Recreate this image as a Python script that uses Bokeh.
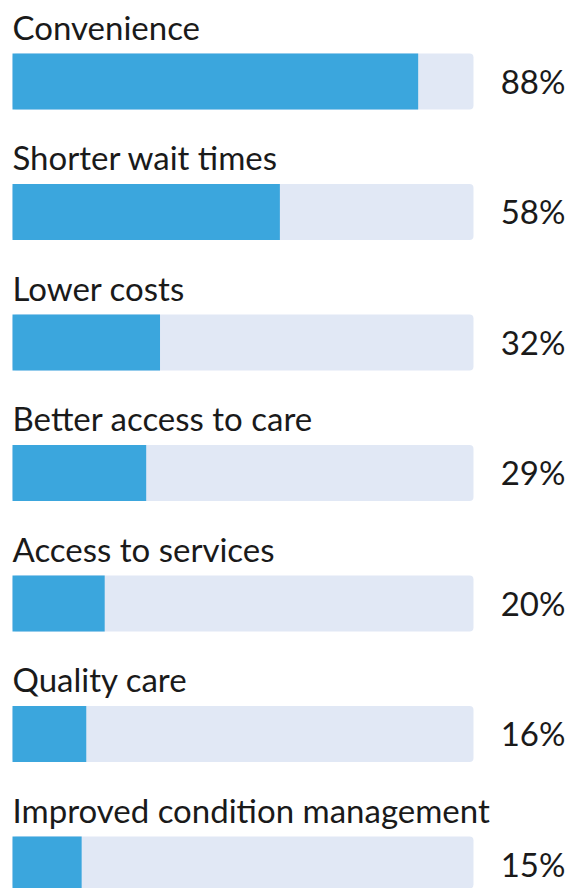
from bokeh.plotting import figure
from bokeh.models import Range1d, ColumnDataSource
from bokeh.core.properties import value
from bokeh.embed import file_html
from bokeh.resources import INLINE

categories = ["Convenience", "Shorter wait times", "Lower costs", "Better access to care",
              "Access to services", "Quality care", "Improved condition management"]
values = [88, 58, 32, 29, 20, 16, 15]
pct_labels = [f"{v}%" for v in values]

n = len(categories)
rows = list(range(n))

p = figure(width=571, height=888, output_backend="svg", toolbar_location=None,
           x_range=Range1d(-2.603, 121.26), y_range=Range1d(6.184, -0.6207),
           min_border=0)
p.axis.visible = False
p.grid.visible = False
p.outline_line_color = None
p.background_fill_color = "white"
p.border_fill_color = "white"

src = ColumnDataSource(dict(
    y=rows, v=values, full=[100] * n, cat=categories, pct=pct_labels,
    label_y=[r - 0.419 for r in rows], pct_y=[r - 0.006 for r in rows],
    zero=[0] * n, pct_x=[105.9] * n,
))

bar_h = 56 / 130.5
p.hbar(y="y", left=0, right="full", height=bar_h, source=src,
       fill_color="#E1E8F5", line_color=None, border_radius=4)
p.hbar(y="y", left=0, right="v", height=bar_h, source=src,
       fill_color="#3BA6DD", line_color=None)

p.text(x="zero", y="label_y", text="cat", source=src, text_font=value("Lato"),
       text_font_size="33px", text_color="#1a1a1a", text_baseline="alphabetic",
       text_align="left")
p.text(x="pct_x", y="pct_y", text="pct", source=src, text_font=value("Lato"),
       text_font_size="33px", text_color="#1a1a1a", text_baseline="alphabetic",
       text_align="left")

open("out.html", "w").write(file_html(p, INLINE))
